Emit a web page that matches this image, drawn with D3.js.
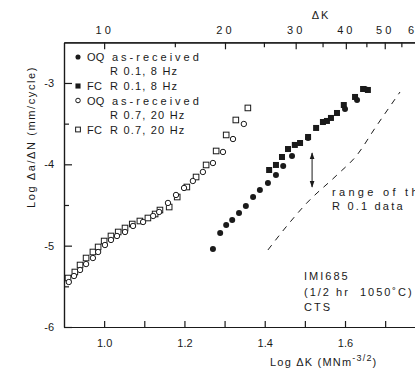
<!DOCTYPE html>
<html>
<head>
<meta charset="utf-8">
<script src="https://cdn.jsdelivr.net/npm/d3@7"></script>
<style>
  html, body { margin: 0; padding: 0; background: #fff; overflow: hidden; }
  svg { display: block; }
  text { font-family: "Liberation Sans", Arial, sans-serif; fill: #1a1a1a; }
</style>
</head>
<body>
<div id="chart"></div>
<script>
// Données : [log ΔK, log da/dN]
const oqR01 = [[1.271,-5.041],[1.289,-4.844],[1.304,-4.746],[1.319,-4.684],[1.336,-4.598],
  [1.353,-4.512],[1.371,-4.402],[1.388,-4.316],[1.408,-4.230],[1.428,-4.131],[1.446,-4.021],
  [1.468,-3.898],[1.508,-3.676],[1.600,-3.320],[1.630,-3.209],[1.650,-3.074]];
const fcR01 = [[1.411,-4.070],[1.428,-4.008],[1.443,-3.910],[1.458,-3.812],[1.475,-3.762],
  [1.488,-3.738],[1.508,-3.664],[1.528,-3.553],[1.545,-3.480],[1.555,-3.467],[1.565,-3.430],
  [1.580,-3.369],[1.597,-3.271],[1.625,-3.172],[1.645,-3.074],[1.657,-3.086]];
const oqR07 = [[0.912,-5.447],[0.925,-5.373],[0.940,-5.299],[0.955,-5.226],[0.972,-5.152],
  [0.985,-5.078],[1.002,-4.992],[1.017,-4.930],[1.032,-4.881],[1.052,-4.832],[1.072,-4.758],
  [1.097,-4.709],[1.122,-4.635],[1.137,-4.586],[1.159,-4.475],[1.179,-4.377],[1.199,-4.291],
  [1.221,-4.205],[1.246,-4.094],[1.271,-3.984],[1.296,-3.848],[1.321,-3.689],[1.348,-3.504]];
const fcR07 = [[0.910,-5.398],[0.927,-5.324],[0.940,-5.238],[0.955,-5.152],[0.972,-5.078],
  [0.985,-5.016],[1.000,-4.943],[1.017,-4.881],[1.035,-4.832],[1.052,-4.783],[1.070,-4.734],
  [1.089,-4.697],[1.109,-4.660],[1.127,-4.611],[1.139,-4.562],[1.162,-4.525],[1.182,-4.402],
  [1.206,-4.279],[1.229,-4.156],[1.254,-4.008],[1.279,-3.836],[1.304,-3.639],[1.328,-3.455],
  [1.358,-3.307]];
// limite de la bande R0.1 (ligne tiretée)
const rangeLine = [[1.408,-5.053],[1.451,-4.783],[1.505,-4.475],[1.580,-4.131],[1.630,-3.885],
  [1.675,-3.553],[1.737,-3.111]];
const rangeArrow = [[1.518,-3.861],[1.518,-4.279]];

const xTicks = [1.0, 1.1, 1.2, 1.3, 1.4, 1.5, 1.6, 1.7];
const xLabels = [1.0, 1.2, 1.4, 1.6];
const yTicks = [-3, -4, -5, -6];
const yMinorTicks = [-3.5, -4.5, -5.5];
const kTicks = [10, 20, 30, 40, 50, 60];
const kMinorTicks = [15, 25, 35, 45, 55];

const legendItems = [
  { sym: 'dot', lines: ['OQ', 'as-received', 'R 0.1, 8 Hz'] },
  { sym: 'sq', lines: ['FC', 'R 0.1, 8 Hz'] },
  { sym: 'odot', lines: ['OQ', 'as-received', 'R 0.7, 20 Hz'] },
  { sym: 'osq', lines: ['FC', 'R 0.7, 20 Hz'] }
];
const noteLines = ['IMI685', '(1/2 hr  1050\u02DAC)', 'CTS'];

const W = 460, H = 368;
const svg = d3.select('#chart').append('svg').attr('width', W).attr('height', H);

const x = d3.scaleLinear().domain([0.9, 1.8]).range([64, 425.3]);
const y = d3.scaleLinear().domain([-6, -2.5]).range([327, 42.3]);
const k = d3.scaleLog().domain([Math.pow(10, 0.9), Math.pow(10, 1.8)]).range([64, 425.3]);

const ink = '#1a1a1a';

// axes
svg.append('g').attr('transform', 'translate(0,' + y(-6) + ')')
  .call(d3.axisBottom(x).tickValues(xTicks).tickSize(-6).tickSizeOuter(0).tickPadding(12)
    .tickFormat(d => xLabels.some(v => Math.abs(v - d) < 1e-6) ? d3.format('.1f')(d) : ''));
svg.append('g').attr('transform', 'translate(' + x(0.9) + ',0)')
  .call(d3.axisLeft(y).tickValues(yTicks).tickSize(-8).tickSizeOuter(0).tickPadding(10)
    .tickFormat(d => d));
svg.append('g').attr('transform', 'translate(' + x(0.9) + ',0)')
  .call(d3.axisLeft(y).tickValues(yMinorTicks).tickSize(-5).tickSizeOuter(0).tickFormat(''));
const gTop = svg.append('g').attr('transform', 'translate(0,' + y(-2.5) + ')')
  .call(d3.axisTop(k).tickValues(kTicks).tickSize(-7).tickSizeOuter(0).tickPadding(8)
    .tickFormat(d => d));
svg.append('g').attr('transform', 'translate(0,' + y(-2.5) + ')')
  .call(d3.axisTop(k).tickValues(kMinorTicks).tickSize(-5).tickSizeOuter(0).tickFormat(''));

svg.selectAll('.domain, .tick line').attr('stroke', ink).attr('stroke-width', 1.2);
svg.selectAll('.tick text').attr('font-size', 11).attr('fill', ink)
  .style('font-family', '"Liberation Sans", Arial, sans-serif');
gTop.selectAll('.tick text').attr('letter-spacing', 3);

// titres d'axes
svg.append('text').attr('x', 321).attr('y', 19).attr('text-anchor', 'middle')
  .attr('font-size', 11).attr('letter-spacing', 2).text('\u0394K');

const xt = svg.append('text').attr('x', 270).attr('y', 366).attr('font-size', 11)
  .attr('letter-spacing', 1.2);
xt.append('tspan').text('Log \u0394K (MNm');
xt.append('tspan').attr('dy', -5).attr('font-size', 9).text('-3/2');
xt.append('tspan').attr('dy', 5).text(')');

svg.append('text').attr('transform', 'translate(35,137) rotate(-90)')
  .attr('text-anchor', 'middle').attr('font-size', 11).attr('letter-spacing', 1.6)
  .text('Log  \u0394a/\u0394N  (mm/cycle)');

// symboles
function drawSym(g, sym, cx, cy, s) {
  if (sym === 'dot') g.append('circle').attr('cx', cx).attr('cy', cy).attr('r', 3 * s).attr('fill', ink);
  if (sym === 'odot') g.append('circle').attr('cx', cx).attr('cy', cy).attr('r', 2.7 * s)
    .attr('fill', '#fff').attr('stroke', ink).attr('stroke-width', 1);
  if (sym === 'sq') g.append('rect').attr('x', cx - 3 * s).attr('y', cy - 3 * s)
    .attr('width', 6 * s).attr('height', 6 * s).attr('fill', ink);
  if (sym === 'osq') g.append('rect').attr('x', cx - 2.8 * s).attr('y', cy - 2.8 * s)
    .attr('width', 5.6 * s).attr('height', 5.6 * s).attr('fill', '#fff')
    .attr('stroke', ink).attr('stroke-width', 1);
}

const marks = svg.append('g');
[[fcR07, 'osq'], [oqR07, 'odot'], [fcR01, 'sq'], [oqR01, 'dot']].forEach(([data, sym]) => {
  data.forEach(d => drawSym(marks, sym, x(d[0]), y(d[1]), 1));
});

// ligne tiretée
svg.append('path').datum(rangeLine)
  .attr('d', d3.line().x(d => x(d[0])).y(d => y(d[1])).curve(d3.curveMonotoneX))
  .attr('fill', 'none').attr('stroke', ink).attr('stroke-width', 1).attr('stroke-dasharray', '6,6');

// flèche double
const defs = svg.append('defs');
defs.append('marker').attr('id', 'ah').attr('viewBox', '0 0 10 10').attr('refX', 9).attr('refY', 5)
  .attr('markerWidth', 7).attr('markerHeight', 7).attr('orient', 'auto-start-reverse')
  .append('path').attr('d', 'M0,1.5 L10,5 L0,8.5 Z').attr('fill', ink);
svg.append('line')
  .attr('x1', x(rangeArrow[0][0])).attr('y1', y(rangeArrow[0][1]))
  .attr('x2', x(rangeArrow[1][0])).attr('y2', y(rangeArrow[1][1]))
  .attr('stroke', ink).attr('stroke-width', 1)
  .attr('marker-start', 'url(#ah)').attr('marker-end', 'url(#ah)');

svg.append('text').attr('x', 332).attr('y', 196).attr('font-size', 11).attr('letter-spacing', 3.3)
  .text('range of the');
svg.append('text').attr('x', 332).attr('y', 210).attr('font-size', 11).attr('letter-spacing', 2.2)
  .text('R 0.1 data');

// légende
let ly = 57;
legendItems.forEach(item => {
  drawSym(svg, item.sym, 78, ly, 0.85);
  svg.append('text').attr('x', 87).attr('y', ly + 4).attr('font-size', 11)
    .attr('letter-spacing', 0.3).text(item.lines[0]);
  if (item.lines.length === 3) {
    svg.append('text').attr('x', 112).attr('y', ly + 4).attr('font-size', 11)
      .attr('letter-spacing', 3).text(item.lines[1]);
    svg.append('text').attr('x', 110).attr('y', ly + 18).attr('font-size', 11)
      .attr('letter-spacing', 1.2).text(item.lines[2]);
    ly += 29;
  } else {
    svg.append('text').attr('x', 110).attr('y', ly + 4).attr('font-size', 11)
      .attr('letter-spacing', 1.2).text(item.lines[1]);
    ly += 14.5;
  }
});

// annotation
noteLines.forEach((t, i) => {
  svg.append('text').attr('x', 304).attr('y', 280 + i * 15.5).attr('font-size', 11)
    .attr('letter-spacing', 2).attr('xml:space', 'preserve').text(t);
});
</script>
</body>
</html>
